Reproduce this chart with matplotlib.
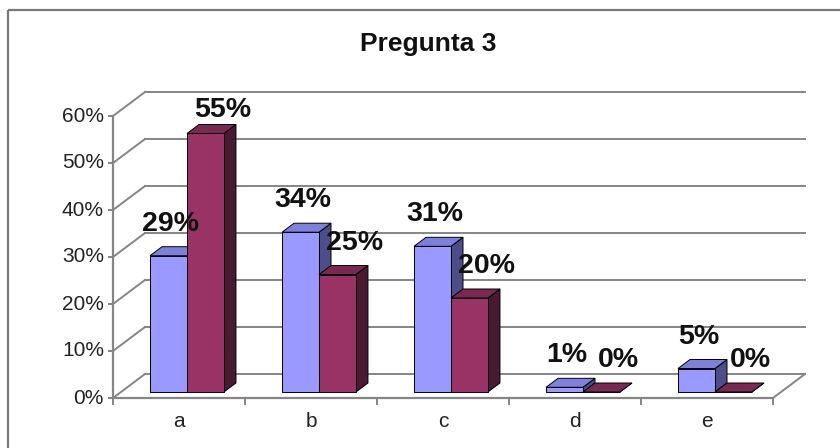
import matplotlib
matplotlib.use("Agg")
import matplotlib.pyplot as plt
from matplotlib.patches import Polygon, Rectangle
import numpy as np

# =============================================================================
# DATA
# =============================================================================

categories = ["a", "b", "c", "d", "e"]
serie_1    = [29, 34, 31, 1, 5]      # blue columns (%)
serie_2    = [55, 25, 20, 0, 0]      # red columns (%)
y_ticks    = [0, 10, 20, 30, 40, 50, 60]
title      = "Pregunta 3"

# =============================================================================
# LAYOUT (pixel scale of the pseudo-3D plot)
# =============================================================================

W, H      = 840, 448
X0, Y0    = 113, 398           # front-plane origin in pixels
PX_CAT    = 132.0              # pixels per category
PX_PCT    = 4.7                # pixels per percent
DEPTH_X   = 32 / PX_CAT        # full wall depth in data units
DEPTH_Y   = 24 / PX_PCT
F0, F1    = 0.25, 0.625        # bar front/back depth fractions
BAR_W     = 0.28

c1_front, c1_top, c1_side = "#9999ff", "#7f7fdc", "#4d4d8a"
c2_front, c2_top, c2_side = "#993366", "#7a2952", "#4a1a33"
grid_c = "#858585"

plt.rcParams['font.family'] = ['Liberation Sans', 'DejaVu Sans']

fig = plt.figure(figsize=(W / 100, H / 100), dpi=100)
ax = fig.add_axes([0, 0, 1, 1])
ax.set_xlim(-X0 / PX_CAT, (W - X0) / PX_CAT)
ax.set_ylim((Y0 - H) / PX_PCT, Y0 / PX_PCT)
ax.axis("off")

# outer chart border
ax.add_patch(Rectangle((8 / W, 1 - 10 / H), 2, -2, transform=ax.transAxes,
                       fill=False, ec="#7a7a7a", lw=1.6, clip_on=True))

n = len(categories)

# walls / gridlines
for t in y_ticks:
    ax.plot([DEPTH_X, n + DEPTH_X], [t + DEPTH_Y, t + DEPTH_Y],
            color=grid_c, lw=1.4, zorder=1)
    ax.plot([0, DEPTH_X], [t, t + DEPTH_Y], color=grid_c, lw=1.4, zorder=1)
    ax.plot([-0.03, 0], [t, t], color=grid_c, lw=1.4, zorder=1)
    ax.text(-9 / PX_CAT, t, f"{t}%", ha="right", va="center",
            fontsize=15, color="#222222")

# floor and front axes
ax.plot([0, n], [0, 0], color=grid_c, lw=1.6, zorder=1)
ax.plot([n, n + DEPTH_X], [0, DEPTH_Y], color=grid_c, lw=1.4, zorder=1)
ax.plot([0, 0], [0, y_ticks[-1]], color=grid_c, lw=1.6, zorder=1)
for k in range(n + 1):
    ax.plot([k, k], [0, -1.2], color=grid_c, lw=1.4, zorder=1)
for k, cat in enumerate(categories):
    ax.text(k + 0.5, -23 / PX_PCT, cat, ha="center", va="center",
            fontsize=15, color="#222222")


def draw_column(ax, x_left, h, front, top, side, z):
    """Draws one pseudo-3D column whose front face starts at x_left."""
    fx, fy = F0 * DEPTH_X, F0 * DEPTH_Y
    ddx, ddy = (F1 - F0) * DEPTH_X, (F1 - F0) * DEPTH_Y
    xl, xr = x_left + fx, x_left + BAR_W + fx
    ax.add_patch(Polygon([(xr, fy), (xr + ddx, fy + ddy),
                          (xr + ddx, fy + ddy + h), (xr, fy + h)],
                         closed=True, fc=side, ec="black", lw=0.7, zorder=z))
    ax.add_patch(Polygon([(xl, fy + h), (xr, fy + h),
                          (xr + ddx, fy + h + ddy), (xl + ddx, fy + h + ddy)],
                         closed=True, fc=top, ec="black", lw=0.7, zorder=z))
    ax.bar(x_left + fx, h, width=BAR_W, bottom=fy, align="edge",
           color=front, edgecolor="black", lw=0.7, zorder=z)


# data labels sit above the column, but not above the plot top
label_dy  = 38 / PX_PCT
label_max = (Y0 - 110) / PX_PCT
for k in range(n):
    xb = k + 0.5 - BAR_W
    xr = k + 0.5
    draw_column(ax, xb, serie_1[k], c1_front, c1_top, c1_side, 3 + 2 * k)
    draw_column(ax, xr, serie_2[k], c2_front, c2_top, c2_side, 4 + 2 * k)
    ax.text(xb + BAR_W / 2 + 10 / PX_CAT, min(serie_1[k] + label_dy, label_max),
            f"{serie_1[k]}%", ha="center", va="center", fontsize=20.5,
            fontweight="bold", color="#111111", zorder=20)
    ax.text(xr + BAR_W / 2 + 25 / PX_CAT, min(serie_2[k] + label_dy, label_max),
            f"{serie_2[k]}%", ha="center", va="center", fontsize=20.5,
            fontweight="bold", color="#111111", zorder=20)

ax.text((428 - X0) / PX_CAT, (Y0 - 44) / PX_PCT, title, ha="center",
        va="center", fontsize=19, fontweight="bold", color="#111111")

fig.savefig("out.png", dpi=100)
